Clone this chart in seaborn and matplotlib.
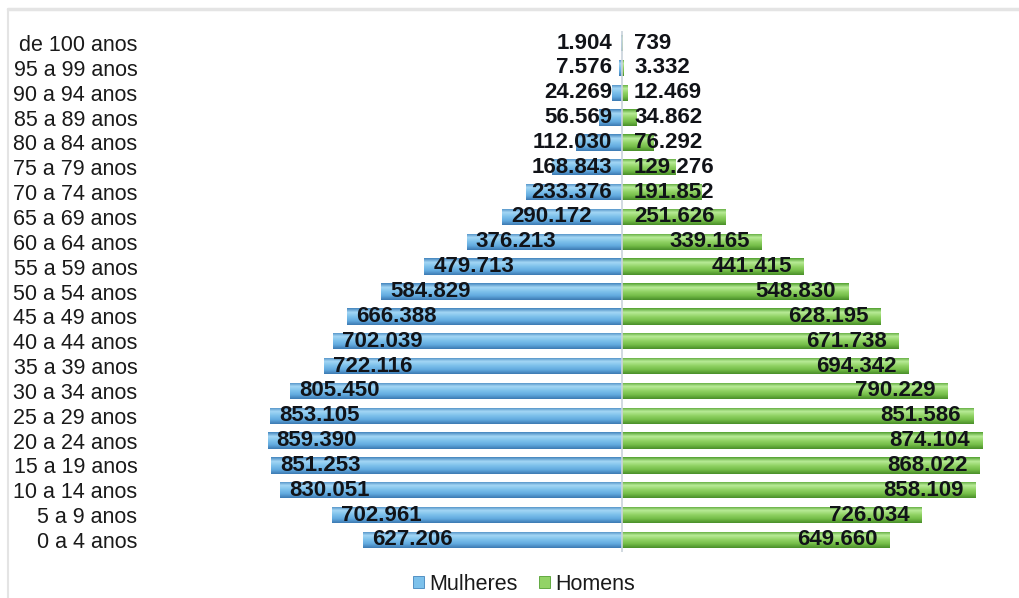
import numpy as np
import matplotlib
matplotlib.use("Agg")
import matplotlib.pyplot as plt
from matplotlib.patches import Patch
from matplotlib.colors import LinearSegmentedColormap
from matplotlib.lines import Line2D
import seaborn as sb

# Pirâmide etária
faixas = ["de 100 anos", "95 a 99 anos", "90 a 94 anos", "85 a 89 anos", "80 a 84 anos",
          "75 a 79 anos", "70 a 74 anos", "65 a 69 anos", "60 a 64 anos", "55 a 59 anos",
          "50 a 54 anos", "45 a 49 anos", "40 a 44 anos", "35 a 39 anos", "30 a 34 anos",
          "25 a 29 anos", "20 a 24 anos", "15 a 19 anos", "10 a 14 anos", "5 a 9 anos",
          "0 a 4 anos"]
mulheres = [1904, 7576, 24269, 56569, 112030, 168843, 233376, 290172, 376213, 479713,
            584829, 666388, 702039, 722116, 805450, 853105, 859390, 851253, 830051,
            702961, 627206]
homens = [739, 3332, 12469, 34862, 76292, 129276, 191852, 251626, 339165, 441415,
          548830, 628195, 671738, 694342, 790229, 851586, 874104, 868022, 858109,
          726034, 649660]

azul = ["#4385bd", "#a4d7f5", "#7dc1eb", "#62aadf", "#3d7ab2"]
verde = ["#52a030", "#b9ec98", "#92d366", "#74bd48", "#4a8f2a"]


def fmt(v):
    return "{:,}".format(v).replace(",", ".")


sb.set_style("white")
plt.rcParams["font.family"] = ["Liberation Sans", "DejaVu Sans"]

fig = plt.figure(figsize=(10.19, 5.98), dpi=100)
ax = fig.add_axes([145 / 1019, 1 - 552.4 / 598, 860 / 1019, (552.4 - 30.6) / 598])

neg = [-v for v in mulheres]
sb.barplot(x=neg, y=faixas, orient="h", color=azul[3], width=0.66, ax=ax,
           saturation=1, edgecolor="none")
sb.barplot(x=homens, y=faixas, orient="h", color=verde[3], width=0.66, ax=ax,
           saturation=1, edgecolor="none")

ax.set_xlim(-1157000, 929000)
ax.set_ylim(20.5, -0.5)
xl, yl = ax.get_xlim(), ax.get_ylim()

# gradiente "3D" em cada barra
cm_azul = LinearSegmentedColormap.from_list("az", azul)
cm_verde = LinearSegmentedColormap.from_list("vd", verde)
grad = np.linspace(0, 1, 64).reshape(-1, 1)
for p in list(ax.patches):
    x0, y0, w, h = p.get_x(), p.get_y(), p.get_width(), p.get_height()
    cm = cm_azul if x0 + w <= 0 else cm_verde
    im = ax.imshow(grad, cmap=cm, aspect="auto", origin="upper",
                   extent=(x0, x0 + w, y0 + h, y0), zorder=p.get_zorder() + 0.1)
    im.set_clip_path(p)
ax.set_xlim(xl)
ax.set_ylim(yl)

ax.axvline(0, color="#c9d3dc", lw=1.2, zorder=5)

ax.set_xticks([])
ax.set_xlabel("")
ax.set_ylabel("")
ax.tick_params(axis="y", length=0, pad=5.5, labelsize=15.5, labelcolor="#1a1a1a")
for s in ax.spines.values():
    s.set_visible(False)

# rótulos de dados
tx_m, tx_h = [], []
for i, v in enumerate(mulheres):
    t = ax.annotate(fmt(v), (-v, i), xytext=(9, 0), textcoords="offset pixels",
                    ha="left", va="center", fontsize=16, fontweight="bold",
                    color="#111318", zorder=6)
    tx_m.append((t, v, i))
for i, v in enumerate(homens):
    t = ax.annotate(fmt(v), (v, i), xytext=(-12, 0), textcoords="offset pixels",
                    ha="right", va="center", fontsize=16, fontweight="bold",
                    color="#111318", zorder=6)
    tx_h.append((t, v, i))

fig.canvas.draw()
r = fig.canvas.get_renderer()
cx = ax.transData.transform((0, 0))[0]
for t, v, i in tx_m:
    bb = t.get_window_extent(r)
    if bb.x1 > cx - 10:
        t.xy = (0, i)
        t.set_position((-10, 0))
        t.set_ha("right")
for t, v, i in tx_h:
    bb = t.get_window_extent(r)
    if bb.x0 < cx + 12:
        t.xy = (0, i)
        t.set_position((12, 0))
        t.set_ha("left")

handles = [Patch(facecolor=azul[2], edgecolor=azul[0], lw=0.6, label="Mulheres"),
           Patch(facecolor=verde[2], edgecolor=verde[0], lw=0.6, label="Homens")]
fig.legend(handles=handles, loc="center", bbox_to_anchor=(524 / 1019, 1 - 584 / 598),
           ncol=2, frameon=False, fontsize=15.5, handlelength=0.5, handleheight=0.5,
           handletextpad=0.25, columnspacing=1.0, labelcolor="#1a1a1a")

# moldura clara
fig.add_artist(Line2D([8 / 1019, 1], [1 - 9 / 598] * 2, transform=fig.transFigure,
                      color="#e4e4e4", lw=2.5))
fig.add_artist(Line2D([8 / 1019] * 2, [0, 1 - 9 / 598], transform=fig.transFigure,
                      color="#e4e4e4", lw=1.5))

fig.savefig("out.png", dpi=100)
